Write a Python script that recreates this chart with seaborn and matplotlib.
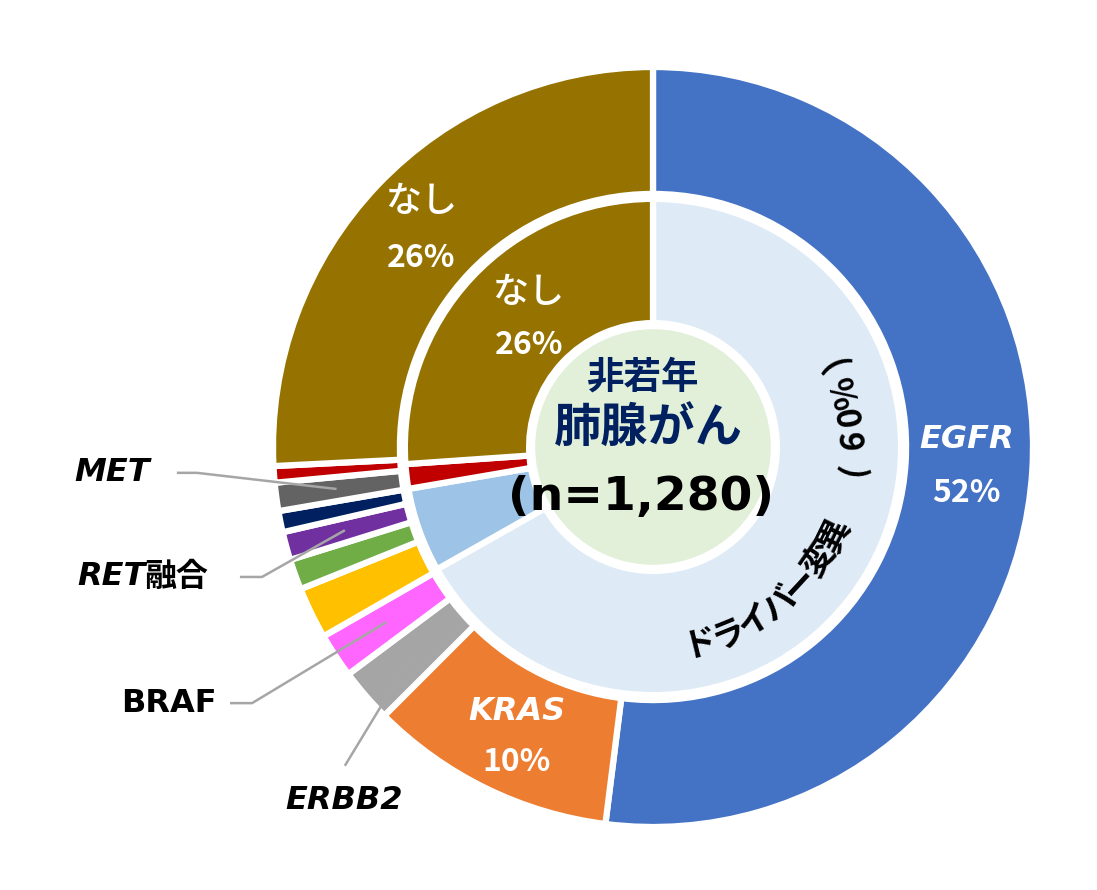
import matplotlib.pyplot as plt
import numpy as np
import seaborn as sns
from matplotlib.patches import Circle

# outer ring: gene alterations (clockwise from 12 o'clock)
outer_names = ["EGFR", "KRAS", "ERBB2", "BRAF", "yellow", "green", "RET融合",
               "navy", "MET", "red", "なし"]
outer_values = [52.0, 10.5, 2.3, 1.9, 2.2, 1.3, 1.2, 0.9, 1.2, 0.7, 25.8]
outer_colors = ["#4472C4", "#ED7D31", "#A5A5A5", "#FF66FF", "#FFC000", "#70AD47",
                "#7030A0", "#002060", "#636363", "#C00000", "#967300"]

# inner ring
inner_names = ["ドライバー変異", "lightblue", "red", "なし"]
inner_values = [66.8, 5.5, 1.6, 26.1]
inner_colors = ["#DEEBF7", "#9DC3E6", "#C00000", "#967300"]

curved_text = "ドライバー変異(60%)"
curved_angles = [-76.3, -67.9, -59.5, -51.1, -42.7, -34.3, -26.0,
                 -6.4, 2.0, 8.8, 16.0, 24.8]

sns.set_theme(style="white")
plt.rcParams["font.family"] = ["Noto Sans CJK JP", "DejaVu Sans"]

fig = plt.figure(figsize=(10.97, 8.90), dpi=100)
ax = fig.add_axes([0, 0, 1, 1])

wedge_kw = dict(edgecolor="white", linewidth=4.5)
ax.pie(outer_values, colors=outer_colors, radius=1.0, startangle=90,
       counterclock=False, wedgeprops=dict(width=1.0 - 0.666, **wedge_kw))
ax.pie(inner_values, colors=inner_colors, radius=0.653, startangle=90,
       counterclock=False, wedgeprops=dict(width=0.653 - 0.326, **wedge_kw))
ax.add_patch(Circle((0, 0), 0.31, facecolor="#E2F0D9", edgecolor="none", zorder=3))

ax.set_aspect("equal")
ax.set_xlim(-653 / 380, (1097 - 653) / 380)
ax.set_ylim(-(890 - 447) / 380, 447 / 380)
ax.axis("off")


def mid_point(values, name_list, name, r):
    total = sum(values)
    i = name_list.index(name)
    cum = sum(values[:i]) + values[i] / 2
    th = np.deg2rad(360 * cum / total)
    return r * np.sin(th), r * np.cos(th)


# labels in the rings
white = dict(color="white", ha="center", va="center")
ax.text(-0.611, 0.645, "なし", fontsize=26, fontweight="medium", **white)
ax.text(-0.611, 0.497, "26%", fontsize=23, fontweight="bold", **white)
ax.text(-0.329, 0.405, "なし", fontsize=26, fontweight="medium", **white)
ax.text(-0.326, 0.268, "26%", fontsize=23, fontweight="bold", **white)
ax.text(0.826, 0.02, "EGFR", fontsize=23, style="italic", fontweight="bold",
        family=["DejaVu Sans"], **white)
ax.text(0.826, -0.12, "52%", fontsize=23, fontweight="bold", **white)
ax.text(-0.358, -0.695, "KRAS", fontsize=23, style="italic", fontweight="bold",
        family=["DejaVu Sans"], **white)
ax.text(-0.358, -0.83, "10%", fontsize=23, fontweight="bold", **white)

# center
ax.text(-0.029, 0.184, "非若年", fontsize=27, color="#002060", fontweight="bold",
        ha="center", va="center", zorder=4)
ax.text(-0.011, 0.047, "肺腺がん", fontsize=34, color="#002060", fontweight="bold",
        ha="center", va="center", zorder=4)
ax.text(-0.032, -0.166, "(n=1,280)", fontsize=34, color="black", fontweight="bold",
        family=["DejaVu Sans"], ha="center", va="baseline", zorder=4)

# curved label along the inner ring
r_txt = 0.53
for ch, ang in zip(curved_text, curved_angles):
    a = np.deg2rad(ang)
    ax.text(r_txt * np.cos(a), r_txt * np.sin(a), ch, fontsize=24, color="black",
            fontweight="bold", ha="center", va="center", rotation=ang + 90,
            rotation_mode="anchor", zorder=4)

# leader lines and side labels
line_kw = dict(color="#A6A6A6", linewidth=1.8, zorder=5, solid_capstyle="butt")
lead_r = 0.84
leaders = {
    "MET": [(-1.253, -0.068), (-1.2, -0.068)],
    "RET融合": [(-1.087, -0.342), (-1.029, -0.342)],
    "BRAF": [(-1.113, -0.674), (-1.055, -0.674)],
    "ERBB2": [(-0.811, -0.839)],
}
for name, pts in leaders.items():
    ex, ey = mid_point(outer_values, outer_names, name, lead_r)
    xs = [p[0] for p in pts] + [ex]
    ys = [p[1] for p in pts] + [ey]
    ax.plot(xs, ys, **line_kw)

side = dict(fontsize=23, color="black", fontweight="bold", va="center")
ax.text(-1.324, -0.068, "MET", ha="right", style="italic", family=["DejaVu Sans"], **side)
ax.text(-1.171, -0.342, "融合", ha="right", **side)
ax.text(-1.334, -0.342, "RET", ha="right", style="italic", family=["DejaVu Sans"], **side)
ax.text(-1.147, -0.674, "BRAF", ha="right", family=["DejaVu Sans"], **side)
ax.text(-0.813, -0.929, "ERBB2", ha="center", style="italic", family=["DejaVu Sans"], **side)

fig.savefig("out.png", dpi=100)
